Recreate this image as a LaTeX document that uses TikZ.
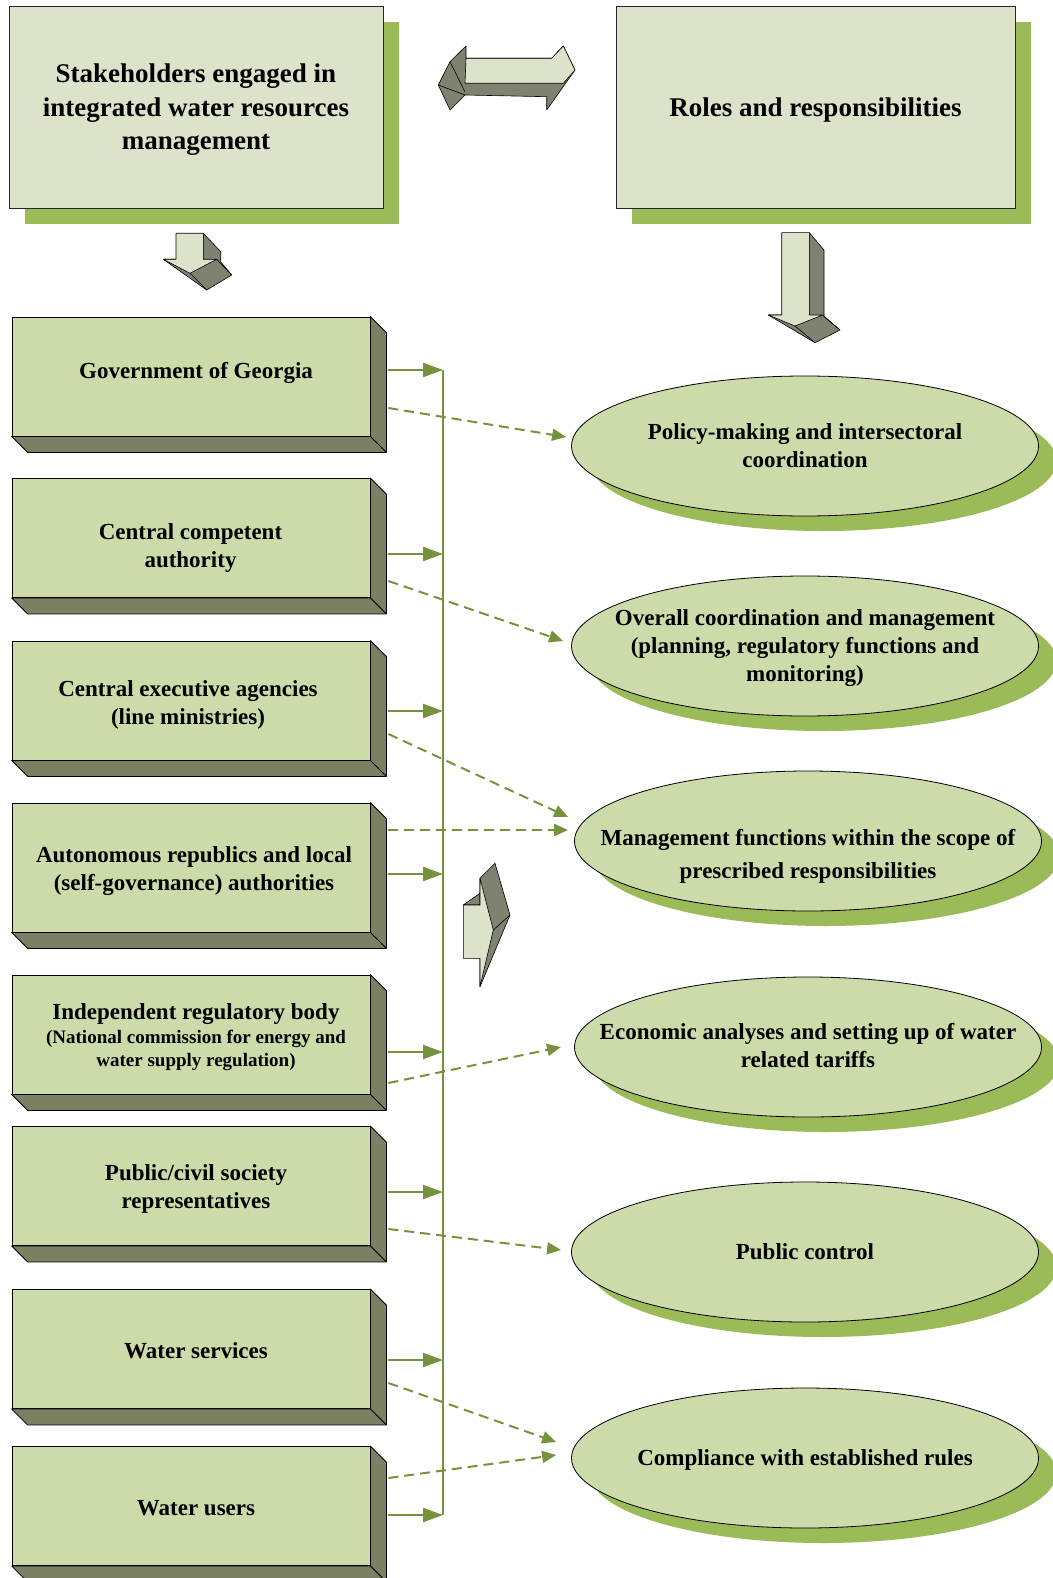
\documentclass[tikz,border=0pt]{standalone}
\usepackage{fontspec}
\setmainfont{Liberation Serif}
\usetikzlibrary{arrows.meta,shapes.geometric,shadows}
\definecolor{boxfront}{HTML}{CCDBA9}
\definecolor{boxside}{HTML}{7A8061}
\definecolor{topfill}{HTML}{DDE2CA}
\definecolor{shgreen}{HTML}{9BBB59}
\definecolor{lnk}{HTML}{76923C}
\definecolor{arrlight}{HTML}{DDE2CB}
\definecolor{arrdark}{HTML}{7F8270}
\newcommand\boxdepth[1]{%
  \filldraw[fill=boxside,draw=black,line width=0.8pt,line join=round]
    (#1.north east) -- ([shift={(16,16)}]#1.north east) -- ([shift={(16,16)}]#1.south east)
    -- ([shift={(16,16)}]#1.south west) -- (#1.south west) -- (#1.south east) -- cycle;
  \draw[line width=0.8pt] (#1.south east) -- ([shift={(16,16)}]#1.south east);}
\begin{document}
\begin{tikzpicture}[x=1pt,y=-1pt,
  topbox/.style={rectangle,draw=black!85,line width=0.8pt,fill=topfill,minimum height=202pt,
    inner sep=0pt,
    drop shadow={shadow xshift=16pt,shadow yshift=-16pt,fill=shgreen,opacity=1,draw=none}},
  toptext/.style={align=center,inner sep=0pt,font=\bfseries\fontsize{27}{33.5}\selectfont},
  stk/.style={rectangle,draw=black,line width=0.8pt,fill=boxfront,minimum width=358pt,
    minimum height=119pt,inner sep=0pt},
  stktext/.style={align=center,inner sep=0pt,font=\bfseries\fontsize{23}{28}\selectfont},
  oval/.style={ellipse,draw=black,line width=0.8pt,fill=boxfront,minimum width=467pt,
    minimum height=140pt,inner sep=0pt,
    drop shadow={shadow xshift=18pt,shadow yshift=-15pt,fill=shgreen,opacity=1,draw=none}},
  ovtext/.style={align=center,inner sep=0pt,font=\bfseries\fontsize{23}{28}\selectfont},
  conn/.style={lnk,line width=2.2pt,-{Triangle[length=20pt,width=14pt]}},
  dconn/.style={lnk,line width=2pt,dash pattern=on 10pt off 6pt,-{Triangle[length=14pt,width=12pt]}},
  blk/.style={draw=black,line width=0.6pt,line join=round},
]
\useasboundingbox (0,0) rectangle (1052,1578);

% top boxes
\node[topbox,minimum width=374pt] (tl) at (196,107) {};
\node[toptext] (tlt) at (196,110) {Stakeholders engaged in\\integrated water resources\\management};
\node[topbox,minimum width=399pt] (tr) at (815.5,107) {};
\node[toptext] (trt) at (815.5,110) {Roles and responsibilities};

% double arrow
\filldraw[blk,fill=arrdark] (466,46) -- (450,61.7) -- (438.3,85) -- (450,110) -- (465,95) -- (546.7,96.7)
  -- (546.7,110) -- (575,70) -- (563.3,46) -- (551.7,58.3) -- (466,58.3) -- cycle;
\filldraw[blk,fill=arrlight] (466,58.3) -- (551.7,58.3) -- (563.3,46) -- (575,70) -- (563.3,83.3)
  -- (465,83.3) -- cycle;
\draw[blk] (438.3,85) -- (465,95);
\draw[blk] (450,61.7) -- (465,92);

% down arrow left
\filldraw[blk,fill=arrdark] (203.3,233.3) -- (220.7,251.7) -- (220.7,262) -- (231.7,275) -- (206.7,290)
  -- (163.3,259.3) -- (203.3,259.3) -- cycle;
\filldraw[blk,fill=arrlight] (176,233.3) -- (203.3,233.3) -- (203.3,259.3) -- (216.7,259.3) -- (190,273.3)
  -- (163.3,259.3) -- (176,259.3) -- cycle;
\draw[blk] (190,273.3) -- (206.7,290);
\draw[blk] (216.7,259.3) -- (231.7,275);

% down arrow right
\filldraw[blk,fill=arrdark] (809.3,232.7) -- (824,250) -- (824,316.7) -- (840,330) -- (815,342.7)
  -- (768.3,315) -- (809.3,315) -- cycle;
\filldraw[blk,fill=arrlight] (781.7,232.7) -- (809.3,232.7) -- (809.3,315) -- (822.7,315) -- (795,326)
  -- (768.3,315) -- (781.7,315) -- cycle;
\draw[blk] (795,326) -- (815,342.7);
\draw[blk] (822.7,315) -- (840,330);

% right arrow
\filldraw[blk,fill=arrdark] (480,878.3) -- (495,863.3) -- (510,915) -- (480,986.7) -- cycle;
\filldraw[blk,fill=arrdark] (463.3,905) -- (480,893.3) -- (480,905) -- cycle;
\filldraw[blk,fill=arrlight] (463.3,905) -- (480,905) -- (480,878.3) -- (493.3,930) -- (480,986.7)
  -- (480,958.3) -- (463.3,958.3) -- cycle;
\draw[blk] (493.3,930) -- (510,915);

% stakeholder boxes
\node[stk] (b1) at (191,376.5) {};
\node[stk] (b2) at (191,538) {};
\node[stk] (b3) at (191,700.5) {};
\node[stk,minimum height=129pt] (b4) at (191,867.5) {};
\node[stk] (b5) at (191,1034.5) {};
\node[stk] (b6) at (191,1186) {};
\node[stk] (b7) at (191,1349) {};
\node[stk] (b8) at (191,1506) {};
\foreach \b in {b1,b2,b3,b4,b5,b6,b7,b8} {\boxdepth{\b}}
\node[stktext] (b1t) at (196,372.5) {Government of Georgia};
\node[stktext] (b2t) at (190.5,548) {Central competent\\authority};
\node[stktext] (b3t) at (188,704.5) {Central executive agencies\\(line ministries)};
\node[stktext] (b4t) at (194,871.5) {Autonomous republics and local\\(self-governance) authorities};
\node[stktext] (b5t) at (196,1037) {Independent regulatory body\\[-4pt]{\fontsize{19}{23}\selectfont (National commission for energy and}\\[-5pt]{\fontsize{19}{23}\selectfont water supply regulation)}};
\node[stktext] (b6t) at (196,1189) {Public/civil society\\representatives};
\node[stktext] (b7t) at (196,1351) {Water services};
\node[stktext] (b8t) at (196,1508.5) {Water users};

% roles ellipses
\node[oval] (e1) at (805,446) {};
\node[ovtext] (e1t) at (805,446) {Policy-making and intersectoral\\coordination};
\node[oval] (e2) at (805,646) {};
\node[ovtext] (e2t) at (805,648) {Overall coordination and management\\(planning, regulatory functions and\\monitoring)};
\node[oval] (e3) at (808,841) {};
\node[ovtext,font=\bfseries\fontsize{23}{33}\selectfont] (e3t) at (808,856) {Management functions within the scope of\\prescribed responsibilities};
\node[oval] (e4) at (808,1047) {};
\node[ovtext] (e4t) at (808,1046) {Economic analyses and setting up of water\\related tariffs};
\node[oval] (e5) at (805,1252) {};
\node[ovtext] (e5t) at (805,1252) {Public control};
\node[oval] (e6) at (805,1458) {};
\node[ovtext] (e6t) at (805,1460) {Compliance with established rules};

% bus line
\coordinate (bt) at (443,370);
\coordinate (bb) at (443,1515);
\draw[lnk,line width=2.2pt] (bt) -- (bb);

% solid arrows to bus
\coordinate (s1) at ([xshift=18pt,yshift=6.5pt]b1.east);
\coordinate (s2) at ([xshift=18pt,yshift=-16pt]b2.east);
\coordinate (s3) at ([xshift=18pt,yshift=-10.5pt]b3.east);
\coordinate (s4) at ([xshift=18pt,yshift=-6.5pt]b4.east);
\coordinate (s5) at ([xshift=18pt,yshift=-17.5pt]b5.east);
\coordinate (s6) at ([xshift=18pt,yshift=-6pt]b6.east);
\coordinate (s7) at ([xshift=18pt,yshift=-11pt]b7.east);
\coordinate (s8) at ([xshift=18pt,yshift=-9pt]b8.east);
\foreach \s in {s1,s2,s3,s4,s5,s6,s7,s8} {\draw[conn] (\s) -- (\s -| bt);}

% dashed arrows to roles
\draw[dconn] ([xshift=18pt,yshift=-31.5pt]b1.east) -- ([xshift=-5pt,yshift=9pt]e1.west);
\draw[dconn] ([xshift=18pt,yshift=-43pt]b2.east) -- ([xshift=-8pt,yshift=5pt]e2.west);
\draw[dconn] ([xshift=18pt,yshift=-33.5pt]b3.east) -- ([xshift=-6pt,yshift=24pt]e3.west);
\draw[dconn] ([xshift=18pt,yshift=37.5pt]b4.east) -- ([xshift=-6pt,yshift=11pt]e3.west);
\draw[dconn] ([xshift=18pt,yshift=-48.5pt]b5.east) -- ([xshift=-13pt,yshift=0pt]e4.west);
\draw[dconn] ([xshift=18pt,yshift=-43pt]b6.east) -- ([xshift=-10pt,yshift=2pt]e5.west);
\draw[dconn] ([xshift=18pt,yshift=-34pt]b7.east) -- ([xshift=-15pt,yshift=16pt]e6.west);
\draw[dconn] ([xshift=18pt,yshift=28pt]b8.east) -- ([xshift=-15pt,yshift=3pt]e6.west);
\end{tikzpicture}
\end{document}
